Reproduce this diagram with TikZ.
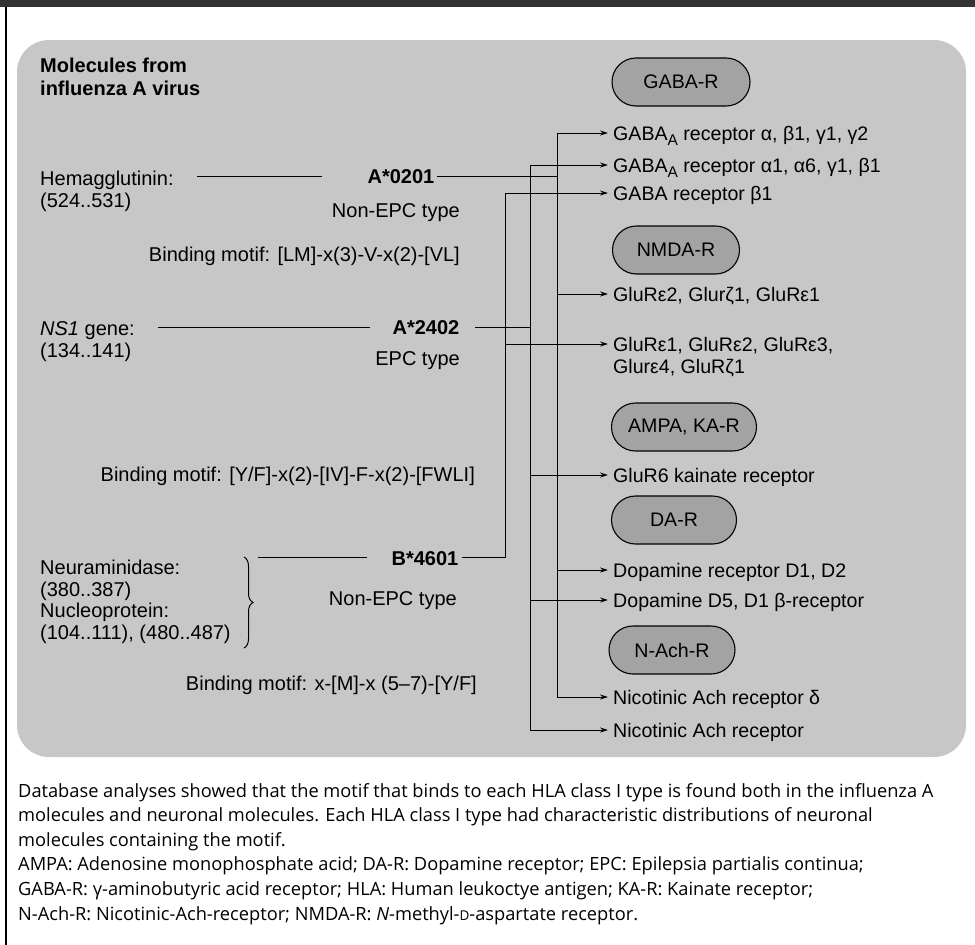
\documentclass[tikz,border=0pt]{standalone}
\usepackage{fontspec}
\setmainfont{Liberation Sans}
\newfontfamily\capfont{Open Sans}
\usetikzlibrary{arrows.meta,decorations.pathreplacing}
\definecolor{bggray}{gray}{0.78}
\definecolor{pillgray}{gray}{0.64}
\newcommand{\subA}{\raisebox{-5pt}{\fontsize{15.5}{15.5}\selectfont A}}
\begin{document}
\begin{tikzpicture}[x=1pt,y=-1pt,
  txt/.style={inner sep=0pt, font=\fontsize{20}{23}\selectfont},
  ttl/.style={inner sep=0pt, anchor=base west, font=\bfseries\fontsize{20}{23}\selectfont},
  rlab/.style={inner sep=0pt, anchor=base west, font=\fontsize{19.6}{22}\selectfont},
  hla/.style={inner sep=0pt, anchor=base, font=\bfseries\fontsize{20}{23}\selectfont},
  pill/.style={draw, line width=1.1pt, fill=pillgray, rounded corners=24pt, minimum height=48pt, inner sep=0pt, font=\fontsize{19.6}{22}\selectfont},
  conn/.style={line width=1pt},
  arr/.style={line width=1pt, -{Stealth[length=8pt,width=5pt]}, shorten >=5pt},
  captxt/.style={inner sep=0pt, anchor=base west, font=\capfont\fontsize{18.25}{24}\selectfont}
]
\useasboundingbox (0,0) rectangle (975,945);
\fill[black!80] (0,0) rectangle (975,7);
\draw[line width=2pt] (6,7) -- (6,945);
\fill[bggray, rounded corners=32pt] (17,40) rectangle (966,757);

% left column
\node[ttl] (title1) at (40,72) {Molecules from};
\node[ttl] (title2) at (40,95) {influenza A virus};
\node[txt, anchor=base west] (hem1) at (40,185) {Hemagglutinin:};
\node[txt, anchor=base west] (hem2) at (40,207) {(524..531)};
\node[txt, anchor=base west] (ns1) at (40,335) {\textit{NS1} gene:};
\node[txt, anchor=base west] (ns2) at (40,357) {(134..141)};
\node[txt, anchor=base west] (neu1) at (40,574) {Neuraminidase:};
\node[txt, anchor=base west] (neu2) at (40,596) {(380..387)};
\node[txt, anchor=base west] (nuc1) at (40,617) {Nucleoprotein:};
\node[txt, anchor=base west] (nuc2) at (40,639) {(104..111), (480..487)};
\coordinate (bra1) at (244,557);
\coordinate (bra2) at (244,648);
\draw[line width=1pt, decorate, decoration={brace, amplitude=9pt}] (bra1) -- (bra2);

% HLA types
\node[hla] (a0201) at (401,183) {A*0201};
\node[hla] (a2402) at (426,334) {A*2402};
\node[hla] (b4601) at (425,565) {B*4601};
\node[txt, anchor=base east] (t1) at (460,217) {Non-EPC type};
\node[txt, anchor=base east] (m1) at (460,261) {Binding motif: [LM]-x(3)-V-x(2)-[VL]};
\node[txt, anchor=base east] (t2) at (460,365) {EPC type};
\node[txt, anchor=base east] (m2) at (475,481) {Binding motif: [Y/F]-x(2)-[IV]-F-x(2)-[FWLI]};
\node[txt, anchor=base east] (t3) at (457,605) {Non-EPC type};
\node[txt, anchor=base east] (m3) at (477,690) {Binding motif: x-[M]-x (5--7)-[Y/F]};

% pills
\node[pill, minimum width=138pt] (pgaba) at (681,82) {GABA-R};
\node[pill, minimum width=127pt] (pnmda) at (676,250) {NMDA-R};
\node[pill, minimum width=145pt] (pampa) at (684,427) {AMPA, KA-R};
\node[pill, minimum width=125pt] (pda) at (674,520) {DA-R};
\node[pill, minimum width=126pt] (pnach) at (672,650) {N-Ach-R};

% receptor labels
\node[rlab] (gA1) at (613,140) {GABA\subA\ receptor α, β1, γ1, γ2};
\node[rlab] (gA2) at (613,172) {GABA\subA\ receptor α1, α6, γ1, β1};
\node[rlab] (gB1) at (613,200) {GABA receptor β1};
\node[rlab] (glu1) at (613,301) {GluRε2, Glurζ1, GluRε1};
\node[rlab] (glu2) at (613,351) {GluRε1, GluRε2, GluRε3,};
\node[rlab] (glu2b) at (613,373) {Glurε4, GluRζ1};
\node[rlab] (glu6) at (613,482) {GluR6 kainate receptor};
\node[rlab] (dop1) at (613,577) {Dopamine receptor D1, D2};
\node[rlab] (dop2) at (613,607) {Dopamine D5, D1 β-receptor};
\node[rlab] (nic1) at (613,704) {Nicotinic Ach receptor δ};
\node[rlab] (nic2) at (613,737) {Nicotinic Ach receptor};

% left connector segments
\coordinate (hl1) at (197,176); \coordinate (hl2) at (322,176);
\draw[conn] (hl1) -- (hl2);
\coordinate (nl1) at (158,327); \coordinate (nl2) at (370,327);
\draw[conn] (nl1) -- (nl2);
\coordinate (bl1) at (258,557); \coordinate (bl2) at (367,557);
\draw[conn] (bl1) -- (bl2);

% bus coordinates
\coordinate (a02r) at (437,176); \coordinate (J1) at (557,176);
\coordinate (a24r) at (475,327); \coordinate (J2) at (530,327);
\coordinate (b46r) at (462,557);
\coordinate (L3top) at (557,133); \coordinate (L3b) at (557,294);
\coordinate (L3c) at (557,570); \coordinate (L3bot) at (557,697);
\coordinate (L2top) at (530,165); \coordinate (L2b) at (530,475);
\coordinate (L2c) at (530,600); \coordinate (L2bot) at (530,730);
\coordinate (L1top) at (505,193); \coordinate (L1b) at (505,344);
\coordinate (L1bot) at (505,557);

% A*0201 bus
\draw[conn] (a02r) -- (J1);
\draw[arr] (L3bot) -- (L3top) -- (L3top -| gA1.west);
\draw[arr] (L3b) -- (L3b -| glu1.west);
\draw[arr] (L3c) -- (L3c -| dop1.west);
\draw[arr] (L3bot) -- (L3bot -| nic1.west);
% A*2402 bus
\draw[conn] (a24r) -- (J2);
\draw[arr] (L2bot) -- (L2top) -- (L2top -| gA2.west);
\draw[arr] (L2b) -- (L2b -| glu6.west);
\draw[arr] (L2c) -- (L2c -| dop2.west);
\draw[arr] (L2bot) -- (L2bot -| nic2.west);
% B*4601 bus
\draw[arr] (b46r) -- (L1bot) -- (L1top) -- (L1top -| gB1.west);
\draw[arr] (L1b) -- (L1b -| glu2.west);

% caption
\node[captxt] (c1) at (18,797) {Database analyses showed that the motif that binds to each HLA class I type is found both in the influenza A};
\node[captxt] (c2) at (18,821.6) {molecules and neuronal molecules. Each HLA class I type had characteristic distributions of neuronal};
\node[captxt] (c3) at (18,846) {molecules containing the motif.};
\node[captxt] (c4) at (18,870.8) {AMPA: Adenosine monophosphate acid; DA-R: Dopamine receptor; EPC: Epilepsia partialis continua;};
\node[captxt] (c5) at (18,895.4) {GABA-R: γ-aminobutyric acid receptor; HLA: Human leukoctye antigen; KA-R: Kainate receptor;};
\node[captxt] (c6) at (18,920) {N-Ach-R: Nicotinic-Ach-receptor; NMDA-R: \textit{N}-methyl-{\fontsize{13.5}{13.5}\selectfont D}-aspartate receptor.};
\end{tikzpicture}
\end{document}
